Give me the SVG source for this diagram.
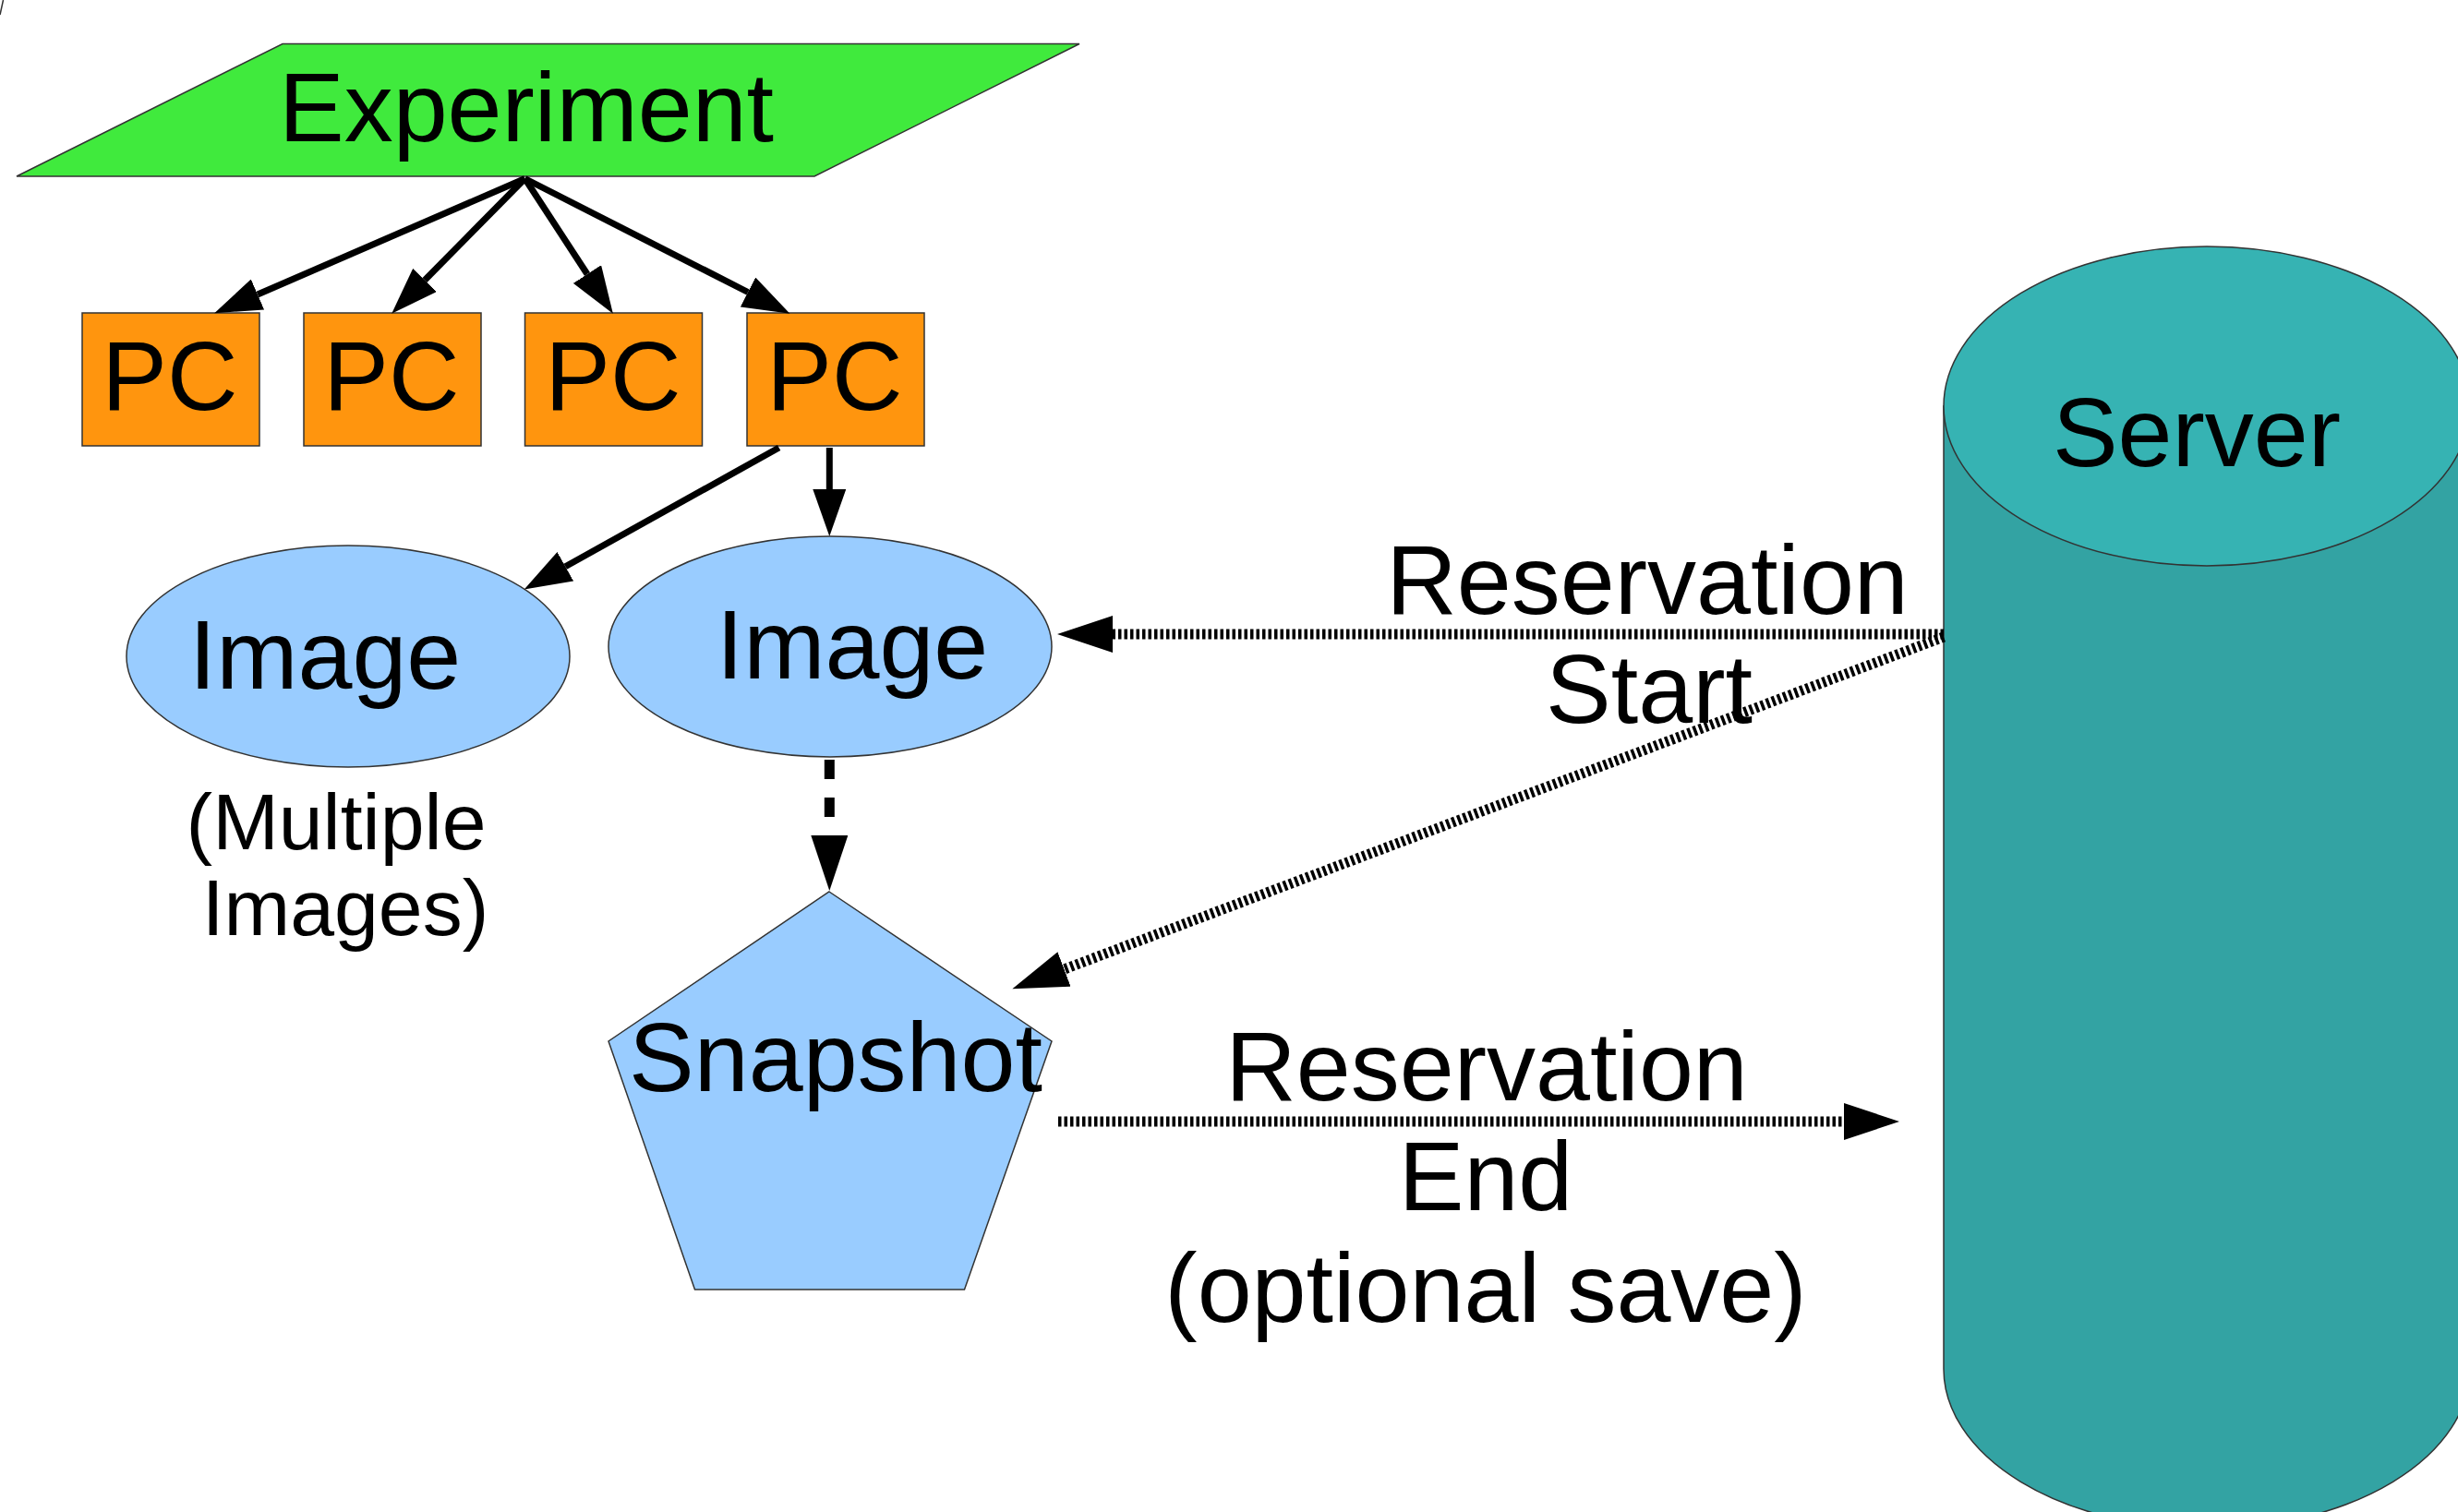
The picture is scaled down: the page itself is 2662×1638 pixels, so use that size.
<svg xmlns="http://www.w3.org/2000/svg" width="2662" height="1638" viewBox="0 0 2662 1638">
<style>
text{font-family:"Liberation Sans",Arial,sans-serif;fill:#000;text-anchor:middle}
.big{font-size:106px}
.mid{font-size:86px}
.outline{stroke:#333;stroke-width:1.5}
.solid{fill:none;stroke:#000;stroke-width:7}
.hatch{fill:none;stroke:#000;stroke-width:11;stroke-dasharray:3.5 3}
.dash{fill:none;stroke:#000;stroke-width:11;stroke-dasharray:21 20}
</style>
<defs>
<marker id="ah" markerUnits="userSpaceOnUse" markerWidth="52" markerHeight="36" refX="0" refY="18" orient="auto" viewBox="0 0 52 36">
<path d="M0,0 L51,18 L0,36 Z" fill="#000"/>
</marker>
<marker id="ahL" markerUnits="userSpaceOnUse" markerWidth="61" markerHeight="40" refX="0" refY="20" orient="auto" viewBox="0 0 61 40">
<path d="M0,0 L60,20 L0,40 Z" fill="#000"/>
</marker>
</defs>
<rect width="2662" height="1638" fill="#fff"/>
<line x1="0" y1="16" x2="3.5" y2="0" class="outline"/>

<g id="server">
<path d="M2105,440 L2105,1483 A285,173 0 0 0 2675,1483 L2675,440 Z" fill="#33a3a3" class="outline"/>
<ellipse cx="2390" cy="440" rx="285" ry="173" fill="#36b3b3" class="outline"/>
<text x="2379" y="505" class="big">Server</text>
</g>

<g id="experiment">
<polygon points="306,47.5 1169,47.5 882,191 18,191" fill="#40ea3d" class="outline"/>
<text x="570" y="153" class="big">Experiment</text>
</g>

<g id="pc1">
<rect x="89" y="339" width="192" height="144" fill="#ff950e" class="outline"/>
<text x="184" y="444" class="big">PC</text>
</g>
<g id="pc2">
<rect x="329" y="339" width="192" height="144" fill="#ff950e" class="outline"/>
<text x="424" y="444" class="big">PC</text>
</g>
<g id="pc3">
<rect x="568.5" y="339" width="192" height="144" fill="#ff950e" class="outline"/>
<text x="664" y="444" class="big">PC</text>
</g>
<g id="pc4">
<rect x="809" y="339" width="192" height="144" fill="#ff950e" class="outline"/>
<text x="904" y="444" class="big">PC</text>
</g>

<g id="image1">
<ellipse cx="377" cy="711" rx="240" ry="120" fill="#99ccff" class="outline"/>
<text x="352" y="746" class="big">Image</text>
</g>
<g id="image2">
<ellipse cx="899" cy="700.5" rx="240" ry="119.5" fill="#99ccff" class="outline"/>
<text x="923" y="735" class="big">Image</text>
</g>
<g id="multiple-label">
<text x="364" y="920" class="mid">(Multiple</text>
<text x="374" y="1013" class="mid">Images)</text>
</g>

<g id="snapshot">
<polygon points="898,966 1139,1128 1044.5,1397 752.5,1397 659,1128" fill="#99ccff" class="outline"/>
<text x="905" y="1182" class="big">Snapshot</text>
</g>

<g id="connectors">
<line x1="568.5" y1="193.5" x2="279" y2="319" class="solid" marker-end="url(#ah)"/>
<line x1="568.5" y1="193.5" x2="460" y2="303.5" class="solid" marker-end="url(#ah)"/>
<line x1="568.5" y1="193.5" x2="636" y2="297" class="solid" marker-end="url(#ah)"/>
<line x1="568.5" y1="193.5" x2="810" y2="316.5" class="solid" marker-end="url(#ah)"/>
<line x1="843.6" y1="485" x2="612.3" y2="613.7" class="solid" marker-end="url(#ah)"/>
<line x1="898.3" y1="485" x2="898.3" y2="530" class="solid" marker-end="url(#ah)"/>
<line x1="898.3" y1="823" x2="898.3" y2="905" class="dash" marker-end="url(#ahL)"/>
<line x1="2105" y1="687" x2="1205" y2="687" class="hatch" marker-end="url(#ahL)"/>
<line x1="2105" y1="690" x2="1152.5" y2="1050" class="hatch" marker-end="url(#ahL)"/>
<line x1="1146" y1="1215" x2="1997" y2="1215" class="hatch" marker-end="url(#ahL)"/>
</g>

<g id="labels">
<text x="1784" y="665" class="big">Reservation</text>
<text x="1786" y="783" class="big">Start</text>
<text x="1610" y="1192" class="big">Reservation</text>
<text x="1609" y="1311" class="big">End</text>
<text x="1609" y="1432" class="big">(optional save)</text>
</g>
</svg>
